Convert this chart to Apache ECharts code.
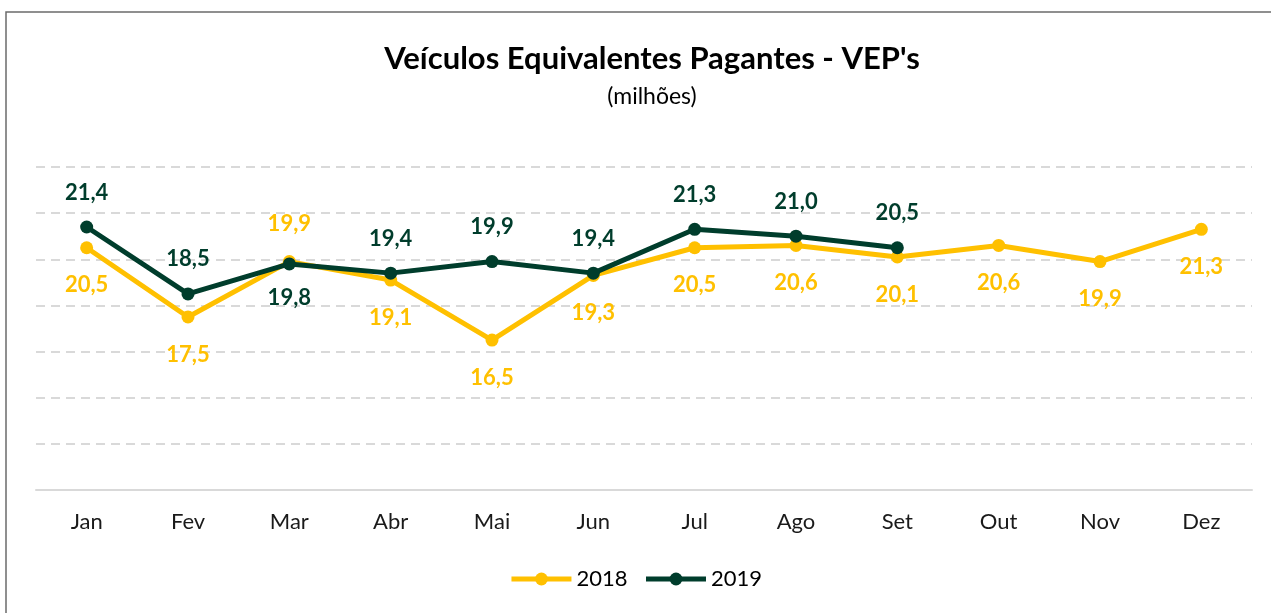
<!DOCTYPE html>
<html lang="pt">
<head>
<meta charset="UTF-8">
<title>Veículos Equivalentes Pagantes - VEP's</title>
<script src="https://cdn.jsdelivr.net/npm/echarts@6/dist/echarts.min.js"></script>
<style>
  body, html { margin: 0; padding: 0; background: #fff; }
  #main { width: 1271px; height: 613px; }
</style>
</head>
<body>
<div id="main"></div>
<script>
const months = ["Jan", "Fev", "Mar", "Abr", "Mai", "Jun", "Jul", "Ago", "Set", "Out", "Nov", "Dez"];
const vep2018 = [20.5, 17.5, 19.9, 19.1, 16.5, 19.3, 20.5, 20.6, 20.1, 20.6, 19.9, 21.3];
const vep2019 = [21.4, 18.5, 19.8, 19.4, 19.9, 19.4, 21.3, 21.0, 20.5];

const YELLOW = "#FFC000";
const GREEN = "#003D2C";
const FONT = "Lato, 'Open Sans', sans-serif";

// which points have their label flipped from the default side
const above2018 = [2];
const below2019 = [2];

const fmt = (v) => v.toFixed(1).replace(".", ",");

const data2018 = vep2018.map((v, i) => ({
  value: v,
  label: { position: above2018.includes(i) ? "top" : "bottom" }
}));
const data2019 = vep2019.map((v, i) => ({
  value: v,
  label: { position: below2019.includes(i) ? "bottom" : "top" }
}));

const chart = echarts.init(document.getElementById("main"));
chart.setOption({
  animation: false,
  textStyle: { fontFamily: FONT },
  graphic: [{
    type: "rect",
    shape: { x: 6, y: 12, width: 1300, height: 700 },
    style: { fill: "none", stroke: "#6b6b6b", lineWidth: 1.5 },
    silent: true
  }],
  title: {
    text: "Veículos Equivalentes Pagantes - VEP's",
    subtext: "(milhões)",
    left: 647,
    textAlign: "center",
    top: 38,
    itemGap: 11,
    textStyle: { fontFamily: FONT, fontSize: 31, fontWeight: "bold", color: "#000" },
    subtextStyle: { fontFamily: FONT, fontSize: 23, color: "#000" }
  },
  legend: {
    bottom: 18,
    left: "center",
    itemWidth: 60,
    itemHeight: 16,
    itemGap: 16,
    textStyle: { fontFamily: FONT, fontSize: 22, color: "#000" },
    lineStyle: { width: 5 },
    data: ["2018", "2019"]
  },
  grid: { left: 36, right: 19, top: 167, bottom: 123, containLabel: false },
  xAxis: {
    type: "category",
    data: months,
    boundaryGap: true,
    axisLine: { lineStyle: { color: "#D9D9D9", width: 2 } },
    axisTick: { show: false },
    axisLabel: { color: "#1a1a1a", fontSize: 22, margin: 21, fontFamily: FONT }
  },
  yAxis: {
    type: "value",
    min: 10,
    max: 24,
    interval: 2,
    axisLabel: { show: false },
    axisLine: { show: false },
    axisTick: { show: false },
    splitLine: { lineStyle: { color: "#D9D9D9", width: 2, type: [9, 6] } }
  },
  series: [
    {
      name: "2018",
      type: "line",
      data: data2018,
      color: YELLOW,
      symbol: "circle",
      symbolSize: 13,
      lineStyle: { width: 5, color: YELLOW },
      itemStyle: { color: YELLOW },
      label: {
        show: true,
        distance: 20,
        color: YELLOW,
        fontSize: 22,
        fontWeight: "bold",
        fontFamily: FONT,
        formatter: (p) => fmt(p.value)
      },
      z: 2
    },
    {
      name: "2019",
      type: "line",
      data: data2019,
      color: GREEN,
      symbol: "circle",
      symbolSize: 13,
      lineStyle: { width: 5, color: GREEN },
      itemStyle: { color: GREEN },
      label: {
        show: true,
        distance: 17,
        color: GREEN,
        fontSize: 22,
        fontWeight: "bold",
        fontFamily: FONT,
        formatter: (p) => fmt(p.value)
      },
      z: 3
    }
  ]
});
</script>
</body>
</html>
